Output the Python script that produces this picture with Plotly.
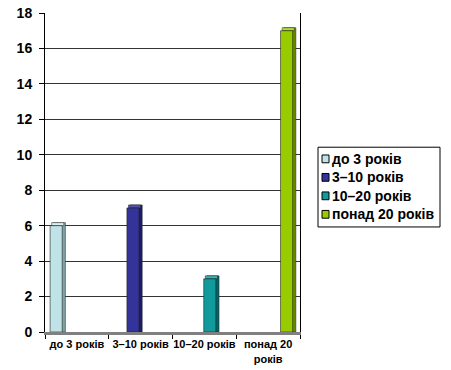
import plotly.graph_objects as go

# Categories and series
categories = ["до 3 років", "3–10 років", "10–20 років", "понад 20 років"]
category_labels = ["до 3 років", "3–10 років", "10–20 років", "понад 20<br>років"]
series_names = ["до 3 років", "3–10 років", "10–20 років", "понад 20 років"]
values_0_3 = [6, None, None, None]
values_3_10 = [None, 7, None, None]
values_10_20 = [None, None, 3, None]
values_20_plus = [None, None, None, 17]
y_ticks = [0, 2, 4, 6, 8, 10, 12, 14, 16, 18]

series_values = [values_0_3, values_3_10, values_10_20, values_20_plus]
front_colors = ["#BFE3E6", "#333399", "#109A9C", "#99CC00"]
top_colors = ["#DDF0F2", "#5252B0", "#3DB3B5", "#B5DD33"]
side_colors = ["#7FA3A6", "#1C1C66", "#066466", "#668A00"]

FONT = "Liberation Sans, Arial, sans-serif"
W, H = 451, 370
ML, MR, MT, MB = 45, 151, 5, 37

# Geometry of the pseudo-3D bars (category-axis units / y units)
slot = 0.205
first_offset = -0.42
bar_w = 0.19
dx = 0.05
dy = 0.17

fig = go.Figure()

for i, (name, vals) in enumerate(zip(series_names, series_values)):
    off = first_offset + i * slot
    # right side + back face
    fig.add_trace(go.Bar(
        x=categories, y=[None if v is None else v + dy for v in vals],
        offset=off + dx, width=bar_w,
        marker=dict(color=side_colors[i], line=dict(color="#222222", width=0.5)),
        showlegend=False, hoverinfo="skip"))
    # top face
    fig.add_trace(go.Bar(
        x=categories, y=[None if v is None else dy for v in vals],
        base=[0 if v is None else v for v in vals],
        offset=off + dx * 0.5, width=bar_w,
        marker=dict(color=top_colors[i], line=dict(color="#222222", width=0.5)),
        showlegend=False, hoverinfo="skip"))
    # front face
    fig.add_trace(go.Bar(
        x=categories, y=vals, name=name,
        offset=off, width=bar_w, showlegend=False,
        marker=dict(color=front_colors[i], line=dict(color="#222222", width=0.6))))


# Legend drawn as a framed box with colour swatches (pixel -> paper coords)
def px_x(px):
    return (px - ML) / (W - ML - MR)


def px_y(py):
    return (H - MB - py) / (H - MT - MB)


shapes = [dict(type="rect", xref="paper", yref="paper",
               x0=px_x(318), x1=px_x(440), y0=px_y(143), y1=px_y(225),
               line=dict(color="black", width=1), fillcolor="white")]
annotations = []
legend_rows = [155, 174, 193, 212]
for i, name in enumerate(series_names):
    cy = legend_rows[i]
    shapes.append(dict(type="rect", xref="paper", yref="paper",
                       x0=px_x(322), x1=px_x(329), y0=px_y(cy - 4), y1=px_y(cy + 4),
                       line=dict(color="black", width=1), fillcolor=front_colors[i]))
    annotations.append(dict(xref="paper", yref="paper", x=px_x(330), y=px_y(cy),
                            xanchor="left", yanchor="middle", showarrow=False,
                            text="<b>" + name + "</b>",
                            font=dict(family=FONT, size=14, color="black")))

fig.update_layout(
    width=W, height=H,
    margin=dict(l=ML, r=MR, t=MT, b=MB),
    paper_bgcolor="white", plot_bgcolor="white",
    font=dict(family=FONT, color="black"),
    barmode="overlay",
    showlegend=False,
    shapes=shapes,
    annotations=annotations,
)

fig.update_yaxes(
    range=[0, 18], tickvals=y_ticks, ticktext=["<b>%d</b>" % t for t in y_ticks],
    ticks="outside", ticklen=5, ticklabeloverflow="allow", ticklabelstandoff=4,
    tickcolor="black", showgrid=True, gridcolor="#333333", gridwidth=1,
    showline=True, linecolor="black", linewidth=1, mirror=True,
    tickfont=dict(family=FONT, size=14), zeroline=False,
)
fig.update_xaxes(
    type="category", tickvals=categories,
    ticktext=["<b>" + c + "</b>" for c in category_labels], tickangle=0,
    ticks="outside", tickson="boundaries", ticklen=4,
    tickcolor="black", showline=True, linecolor="#808080", linewidth=3,
    mirror=False, tickfont=dict(family=FONT, size=11),
)
# frame of the back wall (top edge)
fig.update_layout(xaxis2=dict(overlaying="x", side="top", showline=True,
                              linecolor="black", linewidth=1, showticklabels=False,
                              ticks="", showgrid=False, visible=True))

fig.write_html("out.html")
